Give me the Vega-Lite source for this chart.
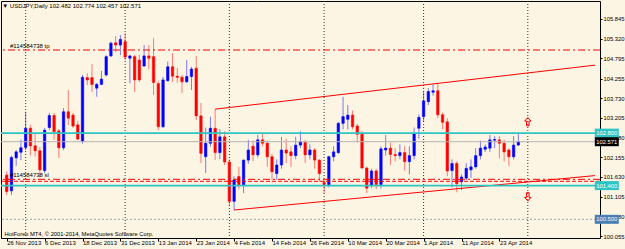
{
  "$schema": "https://vega.github.io/schema/vega-lite/v6.json",
  "width": 599,
  "height": 237,
  "autosize": {"type": "none"},
  "padding": {"left": 1, "top": 1, "right": 25, "bottom": 11},
  "background": "#fcf5e3",
  "config": {
    "view": {"stroke": "#000", "strokeWidth": 1, "fill": "#fcf5e3"},
    "font": "Liberation Sans, Arial, sans-serif",
    "axis": {"labelOverlap": false, "labelFlush": false, "labelBound": false}
  },
  "title": {
    "text": "\u25bc USDJPY,Daily  102.482 102.774 102.457 102.571",
    "anchor": "start",
    "fontSize": 6,
    "fontWeight": "normal",
    "color": "#000",
    "offset": -8,
    "dx": 2
  },
  "datasets": {
    "candles": [
      {"i":0,"d":"2013-11-26","o":101.68,"h":101.78,"l":101.15,"c":101.24},
      {"i":1,"d":"2013-11-27","o":101.26,"h":102.20,"l":101.15,"c":102.15},
      {"i":2,"d":"2013-11-28","o":102.14,"h":102.35,"l":101.92,"c":102.30},
      {"i":3,"d":"2013-11-29","o":102.29,"h":102.62,"l":102.08,"c":102.41},
      {"i":4,"d":"2013-12-02","o":102.42,"h":103.37,"l":102.35,"c":102.93},
      {"i":5,"d":"2013-12-03","o":102.93,"h":103.02,"l":102.20,"c":102.46},
      {"i":6,"d":"2013-12-04","o":102.46,"h":102.80,"l":102.17,"c":102.33},
      {"i":7,"d":"2013-12-05","o":102.33,"h":102.43,"l":101.62,"c":101.82},
      {"i":8,"d":"2013-12-06","o":101.80,"h":102.94,"l":101.73,"c":102.88},
      {"i":9,"d":"2013-12-09","o":102.95,"h":103.34,"l":102.88,"c":103.27},
      {"i":10,"d":"2013-12-10","o":103.27,"h":103.34,"l":102.62,"c":102.84},
      {"i":11,"d":"2013-12-11","o":102.86,"h":102.91,"l":102.14,"c":102.41},
      {"i":12,"d":"2013-12-12","o":102.41,"h":103.47,"l":102.35,"c":103.37},
      {"i":13,"d":"2013-12-13","o":103.37,"h":103.95,"l":103.02,"c":103.20},
      {"i":14,"d":"2013-12-16","o":103.28,"h":103.34,"l":102.94,"c":102.99},
      {"i":15,"d":"2013-12-17","o":103.02,"h":103.12,"l":102.62,"c":102.64},
      {"i":16,"d":"2013-12-18","o":102.58,"h":104.35,"l":102.52,"c":104.29},
      {"i":17,"d":"2013-12-19","o":104.28,"h":104.40,"l":104.08,"c":104.22},
      {"i":18,"d":"2013-12-20","o":104.28,"h":104.64,"l":103.90,"c":104.10},
      {"i":19,"d":"2013-12-23","o":104.00,"h":104.14,"l":103.77,"c":104.10},
      {"i":20,"d":"2013-12-24","o":104.10,"h":104.46,"l":104.08,"c":104.24},
      {"i":21,"d":"2013-12-26","o":104.35,"h":104.88,"l":104.31,"c":104.84},
      {"i":22,"d":"2013-12-27","o":104.86,"h":105.24,"l":104.83,"c":105.20},
      {"i":23,"d":"2013-12-30","o":105.21,"h":105.39,"l":104.96,"c":105.15},
      {"i":24,"d":"2013-12-31","o":105.15,"h":105.42,"l":104.88,"c":105.30},
      {"i":25,"d":"2014-01-02","o":105.24,"h":105.46,"l":104.75,"c":104.83},
      {"i":26,"d":"2014-01-03","o":104.80,"h":104.89,"l":104.13,"c":104.86},
      {"i":27,"d":"2014-01-06","o":104.84,"h":104.89,"l":103.90,"c":104.22},
      {"i":28,"d":"2014-01-07","o":104.75,"h":104.89,"l":104.17,"c":104.22},
      {"i":29,"d":"2014-01-08","o":104.59,"h":105.15,"l":104.57,"c":104.86},
      {"i":30,"d":"2014-01-09","o":104.86,"h":105.15,"l":104.50,"c":104.80},
      {"i":31,"d":"2014-01-10","o":104.84,"h":105.33,"l":103.82,"c":104.15},
      {"i":32,"d":"2014-01-13","o":104.12,"h":104.20,"l":102.88,"c":102.97},
      {"i":33,"d":"2014-01-14","o":102.97,"h":104.30,"l":102.94,"c":104.22},
      {"i":34,"d":"2014-01-15","o":104.20,"h":104.71,"l":104.17,"c":104.57},
      {"i":35,"d":"2014-01-16","o":104.57,"h":104.93,"l":104.17,"c":104.32},
      {"i":36,"d":"2014-01-17","o":104.32,"h":104.54,"l":104.14,"c":104.29},
      {"i":37,"d":"2014-01-20","o":104.29,"h":104.35,"l":103.87,"c":104.17},
      {"i":38,"d":"2014-01-21","o":104.17,"h":104.75,"l":104.14,"c":104.31},
      {"i":39,"d":"2014-01-22","o":104.31,"h":104.57,"l":103.95,"c":104.51},
      {"i":40,"d":"2014-01-23","o":104.53,"h":104.86,"l":103.15,"c":103.26},
      {"i":41,"d":"2014-01-24","o":103.26,"h":103.60,"l":102.00,"c":102.26},
      {"i":42,"d":"2014-01-27","o":102.17,"h":102.95,"l":101.74,"c":102.53},
      {"i":43,"d":"2014-01-28","o":102.53,"h":103.24,"l":102.44,"c":102.93},
      {"i":44,"d":"2014-01-29","o":102.93,"h":103.44,"l":102.08,"c":102.28},
      {"i":45,"d":"2014-01-30","o":102.28,"h":102.90,"l":102.10,"c":102.70},
      {"i":46,"d":"2014-01-31","o":102.70,"h":102.85,"l":101.95,"c":102.03},
      {"i":47,"d":"2014-02-03","o":102.03,"h":102.10,"l":100.85,"c":100.98},
      {"i":48,"d":"2014-02-04","o":100.98,"h":101.65,"l":100.75,"c":101.55},
      {"i":49,"d":"2014-02-05","o":101.64,"h":101.90,"l":101.30,"c":101.42},
      {"i":50,"d":"2014-02-06","o":101.42,"h":102.10,"l":101.20,"c":102.08},
      {"i":51,"d":"2014-02-07","o":102.08,"h":102.62,"l":101.98,"c":102.35},
      {"i":52,"d":"2014-02-10","o":102.45,"h":102.60,"l":102.05,"c":102.22},
      {"i":53,"d":"2014-02-11","o":102.22,"h":102.75,"l":102.15,"c":102.62},
      {"i":54,"d":"2014-02-12","o":102.62,"h":102.78,"l":102.45,"c":102.53},
      {"i":55,"d":"2014-02-13","o":102.53,"h":102.60,"l":101.90,"c":102.17},
      {"i":56,"d":"2014-02-14","o":102.17,"h":102.25,"l":101.55,"c":101.77},
      {"i":57,"d":"2014-02-17","o":101.72,"h":102.10,"l":101.55,"c":101.95},
      {"i":58,"d":"2014-02-18","o":101.95,"h":102.70,"l":101.85,"c":102.35},
      {"i":59,"d":"2014-02-19","o":102.35,"h":102.65,"l":102.00,"c":102.27},
      {"i":60,"d":"2014-02-20","o":102.30,"h":102.45,"l":101.90,"c":102.20},
      {"i":61,"d":"2014-02-21","o":102.20,"h":102.70,"l":102.10,"c":102.48},
      {"i":62,"d":"2014-02-24","o":102.48,"h":102.85,"l":102.40,"c":102.57},
      {"i":63,"d":"2014-02-25","o":102.55,"h":102.62,"l":102.00,"c":102.22},
      {"i":64,"d":"2014-02-26","o":102.22,"h":102.50,"l":102.10,"c":102.35},
      {"i":65,"d":"2014-02-27","o":102.35,"h":102.40,"l":101.85,"c":102.08},
      {"i":66,"d":"2014-02-28","o":102.08,"h":102.10,"l":101.50,"c":101.72},
      {"i":67,"d":"2014-03-03","o":101.48,"h":101.55,"l":101.20,"c":101.43},
      {"i":68,"d":"2014-03-04","o":101.42,"h":102.20,"l":101.35,"c":102.17},
      {"i":69,"d":"2014-03-05","o":102.17,"h":102.45,"l":102.05,"c":102.30},
      {"i":70,"d":"2014-03-06","o":102.28,"h":103.10,"l":102.25,"c":103.06},
      {"i":71,"d":"2014-03-07","o":103.06,"h":103.77,"l":102.90,"c":103.24},
      {"i":72,"d":"2014-03-10","o":103.17,"h":103.55,"l":102.90,"c":103.28},
      {"i":73,"d":"2014-03-11","o":103.28,"h":103.40,"l":102.90,"c":102.97},
      {"i":74,"d":"2014-03-12","o":102.99,"h":103.05,"l":102.55,"c":102.77},
      {"i":75,"d":"2014-03-13","o":102.77,"h":102.85,"l":101.85,"c":101.87},
      {"i":76,"d":"2014-03-14","o":101.87,"h":101.90,"l":101.20,"c":101.33},
      {"i":77,"d":"2014-03-17","o":101.41,"h":101.85,"l":101.33,"c":101.79},
      {"i":78,"d":"2014-03-18","o":101.79,"h":101.85,"l":101.30,"c":101.43},
      {"i":79,"d":"2014-03-19","o":101.43,"h":102.45,"l":101.32,"c":102.38},
      {"i":80,"d":"2014-03-20","o":102.35,"h":102.75,"l":102.20,"c":102.40},
      {"i":81,"d":"2014-03-21","o":102.40,"h":102.55,"l":101.95,"c":102.23},
      {"i":82,"d":"2014-03-24","o":102.23,"h":102.40,"l":102.05,"c":102.20},
      {"i":83,"d":"2014-03-25","o":102.20,"h":102.50,"l":102.10,"c":102.28},
      {"i":84,"d":"2014-03-26","o":102.28,"h":102.45,"l":101.80,"c":102.04},
      {"i":85,"d":"2014-03-27","o":102.04,"h":102.45,"l":101.70,"c":102.20},
      {"i":86,"d":"2014-03-28","o":102.20,"h":102.95,"l":102.10,"c":102.79},
      {"i":87,"d":"2014-03-31","o":102.93,"h":103.30,"l":102.65,"c":103.22},
      {"i":88,"d":"2014-04-01","o":103.24,"h":103.90,"l":103.10,"c":103.66},
      {"i":89,"d":"2014-04-02","o":103.64,"h":104.00,"l":103.55,"c":103.91},
      {"i":90,"d":"2014-04-03","o":103.89,"h":104.10,"l":103.80,"c":103.93},
      {"i":91,"d":"2014-04-04","o":103.93,"h":104.13,"l":103.20,"c":103.29},
      {"i":92,"d":"2014-04-07","o":103.29,"h":103.35,"l":102.90,"c":103.09},
      {"i":93,"d":"2014-04-08","o":103.10,"h":103.20,"l":101.65,"c":101.79},
      {"i":94,"d":"2014-04-09","o":101.80,"h":102.10,"l":101.35,"c":101.99},
      {"i":95,"d":"2014-04-10","o":101.99,"h":102.05,"l":101.22,"c":101.45},
      {"i":96,"d":"2014-04-11","o":101.50,"h":101.70,"l":101.28,"c":101.63},
      {"i":97,"d":"2014-04-14","o":101.60,"h":102.00,"l":101.55,"c":101.86},
      {"i":98,"d":"2014-04-15","o":101.82,"h":102.10,"l":101.60,"c":101.90},
      {"i":99,"d":"2014-04-16","o":101.90,"h":102.40,"l":101.85,"c":102.20},
      {"i":100,"d":"2014-04-17","o":102.20,"h":102.60,"l":102.10,"c":102.40},
      {"i":101,"d":"2014-04-18","o":102.37,"h":102.50,"l":102.30,"c":102.43},
      {"i":102,"d":"2014-04-21","o":102.40,"h":102.75,"l":102.30,"c":102.62},
      {"i":103,"d":"2014-04-22","o":102.61,"h":102.72,"l":102.40,"c":102.63},
      {"i":104,"d":"2014-04-23","o":102.62,"h":102.72,"l":102.13,"c":102.53},
      {"i":105,"d":"2014-04-24","o":102.53,"h":102.62,"l":102.05,"c":102.30},
      {"i":106,"d":"2014-04-25","o":102.35,"h":102.40,"l":101.92,"c":102.17},
      {"i":107,"d":"2014-04-28","o":102.17,"h":102.72,"l":102.10,"c":102.48},
      {"i":108,"d":"2014-04-29","o":102.482,"h":102.774,"l":102.457,"c":102.571}
    ]
  },
  "layer": [
    {
      "data": {"values": [{"i": 4}, {"i": 25}, {"i": 47}, {"i": 67}, {"i": 88}, {"i": 110}]},
      "mark": {"type": "rule", "color": "#333", "strokeWidth": 1, "strokeDash": [1, 2]},
      "encoding": {
        "x": {
          "field": "i", "type": "quantitative",
          "scale": {"domain": [-0.15, 124.18], "nice": false, "zero": false},
          "axis": {
            "orient": "bottom",
            "values": [0, 8, 16, 24, 32, 40, 48, 56, 64, 72, 80, 88, 96, 104],
            "tickCount": 30,
            "labelExpr": "{'0':'26 Nov 2013','8':'6 Dec 2013','16':'18 Dec 2013','24':'31 Dec 2013','32':'13 Jan 2014','40':'23 Jan 2014','48':'4 Feb 2014','56':'14 Feb 2014','64':'26 Feb 2014','72':'10 Mar 2014','80':'20 Mar 2014','88':'1 Apr 2014','96':'11 Apr 2014','104':'23 Apr 2014'}[datum.value]",
            "labelAlign": "left",
            "labelBaseline": "top",
            "labelFontSize": 6,
            "labelColor": "#000",
            "labelPadding": -2,
            "labelOverlap": false,
            "labelFlush": false,
            "tickSize": 3,
            "tickColor": "#000",
            "domain": false,
            "grid": false,
            "title": "HotForex MT4, \u00a9 2001-2014, MetaQuotes Software Corp.",
            "titleFontSize": 5.8,
            "titleFontWeight": "normal",
            "titleColor": "#000",
            "titleAnchor": "start",
            "titleAlign": "left",
            "titleBaseline": "middle",
            "titleX": 3,
            "titleY": -5
          }
        }
      }
    },
    {
      "data": {"values": [
        {"name": "upper", "i": 44, "p": 103.44},
        {"name": "upper", "i": 124.18, "p": 104.613},
        {"name": "lower", "i": 48, "p": 100.749},
        {"name": "lower", "i": 124.18, "p": 101.667}
      ]},
      "mark": {"type": "line", "color": "#ff0000", "strokeWidth": 1},
      "encoding": {
        "x": {"field": "i", "type": "quantitative"},
        "y": {
          "field": "p", "type": "quantitative",
          "scale": {"domain": [100.002, 106.325], "nice": false, "zero": false},
          "axis": {
            "orient": "right",
            "values": [100.055, 100.58, 101.105, 101.63, 102.155, 102.68, 103.205, 103.73, 104.255, 104.795, 105.32, 105.845],
            "tickCount": 30,
            "format": ".3f",
            "labelFontSize": 5.8,
            "labelColor": "#000",
            "labelPadding": 1,
            "labelOverlap": false,
            "labelFlush": false,
            "tickSize": 2,
            "tickColor": "#000",
            "domain": false,
            "grid": false,
            "title": null
          }
        },
        "detail": {"field": "name"}
      }
    },
    {
      "data": {"name": "candles"},
      "mark": {"type": "rule", "strokeWidth": 1, "opacity": 0.5},
      "encoding": {
        "x": {"field": "i", "type": "quantitative"},
        "y": {"field": "l", "type": "quantitative"},
        "y2": {"field": "h"},
        "color": {"condition": {"test": "datum.c >= datum.o", "value": "#0000ff"}, "value": "#ff0000"}
      }
    },
    {
      "data": {"name": "candles"},
      "mark": {"type": "bar", "size": 2.4, "strokeWidth": 0.6},
      "encoding": {
        "x": {"field": "i", "type": "quantitative"},
        "y": {"field": "o", "type": "quantitative"},
        "y2": {"field": "c"},
        "color": {"condition": {"test": "datum.c >= datum.o", "value": "#0000ff"}, "value": "#ff0000"},
        "stroke": {"condition": {"test": "datum.c >= datum.o", "value": "#0000ff"}, "value": "#ff0000"}
      }
    },
    {
      "data": {"values": [{"p": 105.018}, {"p": 101.568}]},
      "mark": {"type": "rule", "color": "#ff0000", "strokeWidth": 1, "strokeDash": [7, 3, 2, 3]},
      "encoding": {"y": {"field": "p", "type": "quantitative"}}
    },
    {
      "data": {"values": [{"p": 101.515}]},
      "mark": {"type": "rule", "color": "#ff0000", "strokeWidth": 1, "strokeDash": [4, 2]},
      "encoding": {"y": {"field": "p", "type": "quantitative"}}
    },
    {
      "data": {"values": [{"p": 102.8}, {"p": 101.4}]},
      "mark": {"type": "rule", "color": "#2ec4c4", "strokeWidth": 1.6},
      "encoding": {"y": {"field": "p", "type": "quantitative"}}
    },
    {
      "data": {"values": [{"p": 102.571}]},
      "mark": {"type": "rule", "color": "#b4b4b4", "strokeWidth": 1},
      "encoding": {"y": {"field": "p", "type": "quantitative"}}
    },
    {
      "data": {"values": [{"p": 100.5}]},
      "mark": {"type": "rule", "color": "#9aa4ae", "strokeWidth": 1, "strokeDash": [2, 2]},
      "encoding": {"y": {"field": "p", "type": "quantitative"}}
    },
    {
      "data": {"values": [
        {"i": 110, "p": 103.105, "dir": "up"},
        {"i": 110, "p": 101.10, "dir": "down"}
      ]},
      "mark": {"type": "point", "shape": "M0,-1L0.75,-0.15L0.3,-0.15L0.3,1L-0.3,1L-0.3,-0.15L-0.75,-0.15Z", "size": 70, "filled": false, "stroke": "#ff0000", "strokeWidth": 1, "opacity": 1},
      "encoding": {
        "x": {"field": "i", "type": "quantitative"},
        "y": {"field": "p", "type": "quantitative"},
        "angle": {"condition": {"test": "datum.dir == 'down'", "value": 180}, "value": 0}
      }
    },
    {
      "data": {"values": [
        {"p": 105.018, "lab": "#114584738 tp"},
        {"p": 101.568, "lab": "#114584738 sl"}
      ]},
      "mark": {"type": "text", "align": "left", "baseline": "bottom", "dy": -1, "fontSize": 6, "color": "#000"},
      "encoding": {
        "x": {"datum": 0.7},
        "y": {"field": "p", "type": "quantitative"},
        "text": {"field": "lab"}
      }
    },
    {
      "data": {"values": [
        {"p": 102.8, "lab": "102.800", "kind": "cyan"},
        {"p": 102.571, "lab": "102.571", "kind": "bid"},
        {"p": 101.4, "lab": "101.400", "kind": "cyan"},
        {"p": 100.5, "lab": "100.500", "kind": "alert"}
      ]},
      "mark": {"type": "point", "shape": "M-1,-0.375L1,-0.375L1,0.375L-1,0.375Z", "size": 576, "filled": true, "opacity": 1, "clip": false},
      "encoding": {
        "x": {"datum": 126.67},
        "y": {"field": "p", "type": "quantitative"},
        "color": {"field": "kind", "type": "nominal", "scale": {"domain": ["cyan", "bid", "alert"], "range": ["#2ec4c4", "#000000", "#4a7fb5"]}, "legend": null}
      }
    },
    {
      "data": {"values": [
        {"p": 102.8, "lab": "102.800"},
        {"p": 102.571, "lab": "102.571"},
        {"p": 101.4, "lab": "101.400"},
        {"p": 100.5, "lab": "100.500"}
      ]},
      "mark": {"type": "text", "align": "center", "baseline": "middle", "fontSize": 5.8, "color": "#ffffff"},
      "encoding": {
        "x": {"datum": 126.67},
        "y": {"field": "p", "type": "quantitative"},
        "text": {"field": "lab"}
      }
    }
  ]
}
